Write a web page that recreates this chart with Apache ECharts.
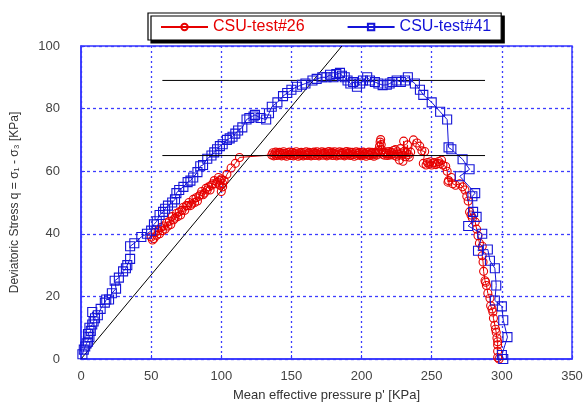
<!DOCTYPE html>
<html>
<head>
<meta charset="utf-8">
<script src="https://cdn.jsdelivr.net/npm/echarts@6/dist/echarts.min.js"></script>
<style>html,body{margin:0;padding:0;background:#fff;}#c{width:588px;height:407px;}</style>
</head>
<body>
<div id="c"></div>
<script>
var seriesNames = ['CSU-test#26', 'CSU-test#41'];
var xTicks = [0, 50, 100, 150, 200, 250, 300, 350];
var yTicks = [0, 20, 40, 60, 80, 100];

var test26 = [
  [50,39],[51,38],[52,38.5],[53,40.5],[54,39.5],[55,41],[56,40],[57,42],[58,41],[59,42.5],[60,41.5],[61,43.5],[62,42.5],[63,44],
  [64,43],[65,45.5],[66,44.5],[67,45],[68,46.5],[69,45.5],[70,47],[71,46],[72,47.5],[73,48.5],[74,47.5],[75,49],[76,49],[77,50],
  [78,49],[79,49.5],[80,51],[81,50],[82,51.5],[83,50.5],[84,52],[85,52.5],[86,53.5],[87,52.5],[88,53],[89,54.5],[90,54],[91,55],
  [92,54],[93,55.5],[94,56],[95,57],[96,56],[97,56.5],[98,58],[99,55.5],[100,53.5],[101,55],[100,57.5],[99,57],[101,56],[102,57],
  [104,59],[107,61],[110,62.5],[113,64.4],
  [136,65.2],[136.7,65.9],[137.4,64.9],[138.1,65.5],[138.8,66.1],[139.5,65.0],[140.2,65.6],[140.9,65.2],[141.6,66.0],[142.3,65.4],
  [143,64.9],[143.7,65.7],[144.4,66.2],[145.1,65.1],[145.8,65.6],[146.5,64.8],[147.2,65.9],[147.9,65.3],[148.6,66.1],[149.3,65.0],
  [150,65.5],[150.7,66.0],[151.4,64.9],[152.1,65.7],[152.8,65.2],[153.5,66.2],[154.2,65.4],[154.9,64.8],[155.6,65.8],[156.3,65.1],
  [157,66.0],[157.7,65.5],[158.4,64.9],[159.1,65.9],[159.8,65.3],[160.5,66.2],[161.2,65.0],[161.9,65.6],[162.6,66.0],[163.3,65.2],
  [164,64.9],[164.7,65.8],[165.4,65.4],[166.1,66.1],[166.8,65.0],[167.5,65.7],[168.2,66.2],[168.9,65.3],[169.6,64.9],[170.3,65.9],
  [171,65.5],[171.7,66.2],[172.4,65.1],[173.1,65.7],[173.8,66.0],[174.5,65.3],[175.2,64.9],[175.9,65.8],[176.6,66.3],[177.3,65.2],
  [178,65.6],[178.7,66.1],[179.4,65.0],[180.1,65.7],[180.8,66.2],[181.5,65.4],[182.2,64.9],[182.9,65.9],[183.6,65.3],[184.3,66.2],
  [185,65.1],[185.7,65.7],[186.4,66.0],[187.1,65.3],[187.8,64.9],[188.5,65.8],[189.2,66.3],[189.9,65.2],[190.6,65.6],[191.3,66.1],
  [192,65.0],[192.7,65.5],[193.4,66.0],[194.1,65.3],[194.8,64.8],[195.5,65.8],[196.2,66.2],[196.9,65.1],[197.6,65.6],[198.3,66.0],
  [199,65.3],[199.7,64.9],[200.4,65.8],[201.1,66.1],[201.8,65.2],[202.5,65.6],[203.2,64.8],[203.9,65.9],[204.6,65.4],[205.3,66.1],
  [206,65.0],[206.7,65.6],[207.4,66.0],[208.1,65.2],[208.8,64.8],[209.5,65.7],[210.2,66.1],[210.9,65.2],[211.6,65.8],[212.2,66.6],
  [212.8,68.0],[213.2,69.3],[213.6,70.1],[214,68.5],[214.4,66.8],[215,65.4],[215.7,66.0],[216.4,65.1],[217.1,65.7],[217.8,66.2],
  [218.5,65.0],[219.2,65.6],[219.9,66.3],[220.6,65.2],[221.3,66.0],[222,65.5],[222.7,66.6],[223.4,65.1],[224.1,66.9],[224.8,64.8],
  [225.5,66.2],[226.2,65.4],[227,63.6],[227.6,67.2],[228.3,65.8],[229,65.1],[229.5,63.2],[230,69.6],[230.6,66.4],[231.3,64.6],
  [232,65.9],[232.7,68.4],[233.4,65.3],[234,64.5],[235,66.1],[237,70],[239.5,69],[241.5,68],[243,66.5],[245,66.3],[244,62.5],
  [246,62],[247,62.8],[248,62.3],[249,63],[250,62],[251,62.6],[252,62.8],[253,62.1],[254,62.5],[255,63.1],[256,62.4],[257,63.5],
  [258,62],[260,61.5],[261,60],[261.6,56.5],[262,57],[264,58],[265,56],[267,55.5],[270,56],[272,55],[273.7,54],[275,52],[276,50.5],
  [277,47],[278,46],[279,45],[281,43.8],[282,41.5],[283,39.4],[284,37],[286,36],[286,33],[286.6,31],[287,28],[288,25],
  [288.5,24.5],[289,23.5],[290,21],[291.5,19.4],[292,17],[293,16],[293.6,15],[294,13],[295,10.8],[295.5,9.5],[296,8.5],
  [296.5,6.7],[297,5.5],[297,4.5],[297,2.5],[297,0.5],[298,0]
];

var test41 = [
  [1,1.5],[2,3],[3,4],[4,5],[5,5.5],[6,7],[5,8],[7,9],[6,10],[8,11],[9,12],[10,13],[8,15],[12,14],[14,16],[17,18],
  [18,19],[20,19],[22,21],[25,22.5],[24,25],[27,26],[30,28],[32,29],[33,30],[35,32],[35,36],[38,37],[43,39],[47,40],
  [50,41],[52,43],[54,44],[56,46],[58.5,47],[60,48],[62,49],[65,50],[67,51],[68,53],[70,54],[73,55],[76,56.5],[78,57],
  [80,58],[83,59.7],[85,61.6],[87,62],[90,64],[93,65],[95,66],[97,67],[99,68],[101,68.6],[104,70],[106,70.5],[108,71],
  [110,72],[112,73],[115,74],[118,76.5],[120,77],[124,78],[123,77.5],[128,77],[132,76.5],[134,78.5],[136,80.6],[140,82],
  [144,84],[147,85],[150,86],[154,87],[157.5,87.6],[160,88],[165,89],[168,89.5],[172,90],[175,90],[177.5,90.8],[180,90],
  [182,91],[184.6,91.4],[186,90.5],[188,90],[190,89],[192,88],[194,88.5],[196.7,87],[199,88],[201,89],[204,90],[206,89],
  [209.5,88.5],[212,88],[215,87.5],[218,87.6],[220,88],[222,88.5],[225,89],[228,88.5],[231,89],[233,90],[238,88],
  [241.6,86],[244,84.4],[250,82],[256,79],[261,76.5],[262,67.6],[264,67],[272,63.8],[277,60.6],[270,58.4],[281,53],
  [279,52],[279.5,47],[282,45.4],[276,42.5],[286,40],[283,34.6],[290,35],[291.5,31.4],[295,29],[296,23.5],[295,18.7],
  [300,16.8],[301,12.4],[304,7],[300,1.3],[301,0]
];

var cslLine = [[0,0],[186,100]];
var peakLine41 = [[58,89],[288,89]];
var peakLine26 = [[58,65],[288,65]];

var chart = echarts.init(document.getElementById('c'), null, {renderer:'canvas'});
var axisBlue = '#3535ff';
var red = '#e60000';
var blue = '#1414d8';
var font = 'Liberation Sans, Arial, sans-serif';
var option = {
  animation: false,
  backgroundColor: '#fff',
  grid: {left: 81, right: 16, top: 46, bottom: 46, show: true, borderColor: axisBlue, borderWidth: 1.5, backgroundColor:'transparent'},
  legend: {
    left: 148, top: 13,
    padding: [6, 10, 5, 12],
    itemGap: 42,
    itemWidth: 47, itemHeight: 8,
    borderColor: '#000', borderWidth: 1.2,
    backgroundColor: '#fff',
    shadowColor: '#000', shadowOffsetX: 3, shadowOffsetY: 3, shadowBlur: 0,
    textStyle: {fontFamily: font, fontSize: 16, padding:[0,0,0,0]},
    data: [
      {name: seriesNames[0], textStyle: {color: red}},
      {name: seriesNames[1], textStyle: {color: blue}}
    ]
  },
  xAxis: {
    type: 'value', min: 0, max: 350, interval: 50,
    name: "Mean effective pressure p' [KPa]", nameLocation: 'middle', nameGap: 30,
    nameTextStyle: {fontFamily: font, fontSize: 13, color: '#333'},
    axisLine: {show: true, lineStyle: {color: axisBlue, width: 1.5}},
    axisTick: {show: true, inside: true, length: 4, lineStyle: {color: axisBlue}},
    axisLabel: {fontFamily: font, fontSize: 13, color: '#444', margin: 11,
      formatter: function(v){ return xTicks.indexOf(v) >= 0 ? String(v) : ''; }},
    splitLine: {show: true, lineStyle: {color: '#3c3cff', type: [2, 3], width: 1.3}}
  },
  yAxis: {
    type: 'value', min: 0, max: 100, interval: 20,
    name: 'Deviatoric Stress q = σ₁ - σ₃ [KPa]', nameLocation: 'middle', nameGap: 60,
    nameTextStyle: {fontFamily: font, fontSize: 12, color: '#333'},
    axisLine: {show: true, lineStyle: {color: axisBlue, width: 1.5}},
    axisTick: {show: true, inside: true, length: 4, lineStyle: {color: axisBlue}},
    axisLabel: {fontFamily: font, fontSize: 13, color: '#444', margin: 21,
      formatter: function(v){ return yTicks.indexOf(v) >= 0 ? String(v) : ''; }},
    splitLine: {show: true, lineStyle: {color: '#3c3cff', type: [3, 3], width: 1.3}}
  },
  series: [
    {
      name: seriesNames[0], type: 'line', data: test26,
      symbol: 'circle', symbolSize: 8,
      lineStyle: {color: red, width: 1},
      itemStyle: {color: 'rgba(255,255,255,0)', borderColor: red, borderWidth: 1.1},
      z: 4
    },
    {
      name: seriesNames[1], type: 'line', data: test41,
      symbol: 'rect', symbolSize: 9,
      lineStyle: {color: blue, width: 1},
      itemStyle: {color: 'rgba(255,255,255,0)', borderColor: blue, borderWidth: 1.1},
      z: 5
    },
    {
      name: 'csl', type: 'line', data: cslLine, symbol: 'none',
      lineStyle: {color: '#000', width: 1}, z: 3, silent: true
    },
    {
      name: 'peak41', type: 'line', data: peakLine41, symbol: 'none',
      lineStyle: {color: '#000', width: 1}, z: 3, silent: true
    },
    {
      name: 'peak26', type: 'line', data: peakLine26, symbol: 'none',
      lineStyle: {color: '#000', width: 1}, z: 6, silent: true
    }
  ]
};
chart.setOption(option);
</script>
</body>
</html>
